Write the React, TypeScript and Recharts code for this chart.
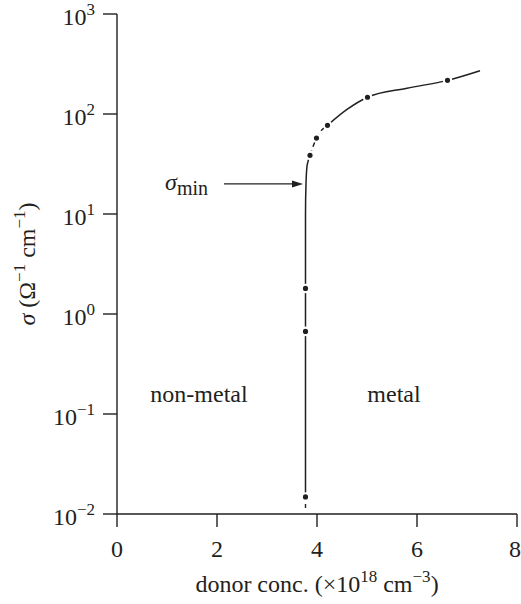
import React from 'react';
import { ComposedChart, Line, Scatter, XAxis, YAxis, ReferenceDot, ReferenceLine } from 'recharts';

// measured data points (donor conc. ×10^18 cm^-3, conductivity Ω^-1 cm^-1)
const pointX = [3.77, 3.77, 3.77, 3.86, 3.99, 4.21, 5.01, 6.61];
const pointY = [0.0148, 0.67, 1.8, 38.6, 57.5, 77, 147, 217];

// drawn guide curve: lower solid part (vertical rise)
const riseX = [3.77, 3.77, 3.77, 3.78, 3.8, 3.86];
const riseY = [0.0148, 1, 10, 20, 30, 38.6];
// dashed part between the close points
const dashX = [3.86, 3.99, 4.21];
const dashY = [38.6, 57.5, 77];
// upper solid part
const upperX = [4.21, 4.6, 5.01, 5.8, 6.61, 7.26];
const upperY = [77, 111, 147, 181, 217, 271];
// short dashed extrapolation below lowest point
const tailX = [3.77, 3.77];
const tailY = [0.0115, 0.0148];

const xTicks = [0, 2, 4, 6, 8];
const yTicks = [0.01, 0.1, 1, 10, 100, 1000];
const yExp = ['−2', '−1', '0', '1', '2', '3'];

const zip = (xs: number[], ys: number[]) => xs.map((x, i) => ({ x, y: ys[i] }));
const points = zip(pointX, pointY);
const rise = zip(riseX, riseY);
const dash = zip(dashX, dashY);
const upper = zip(upperX, upperY);
const tail = zip(tailX, tailY);

const INK = '#231f20';
const FONT = '"Liberation Serif", "DejaVu Serif", serif';
const FS = 24;
const SUP = 17;
const CHART_W = 521;

const YTick = (props: any) => {
  const { x, y, payload } = props;
  const i = yTicks.indexOf(payload.value);
  return (
    <text x={x - 6} y={y + 11} textAnchor="end" fill={INK} fontFamily={FONT} fontSize={FS}>
      <tspan>10</tspan>
      <tspan dy={-10} fontSize={SUP}>{yExp[i]}</tspan>
    </text>
  );
};

const XTick = (props: any) => {
  const { x, y, payload } = props;
  const nearEdge = x + 6 > CHART_W;
  return (
    <text
      x={nearEdge ? CHART_W : x}
      y={y + 28}
      textAnchor={nearEdge ? 'end' : 'middle'}
      fill={INK}
      fontFamily={FONT}
      fontSize={FS}
    >
      {payload.value}
    </text>
  );
};

const XLabel = (props: any) => {
  const { viewBox } = props;
  const cx = viewBox.x + viewBox.width / 2;
  return (
    <text x={cx} y={viewBox.y + 78} textAnchor="middle" fill={INK} fontFamily={FONT} fontSize={FS}>
      <tspan>donor conc. (×10</tspan>
      <tspan dy={-10} fontSize={SUP}>18</tspan>
      <tspan dy={10}> cm</tspan>
      <tspan dy={-10} fontSize={SUP}>−3</tspan>
      <tspan dy={10}>)</tspan>
    </text>
  );
};

const YLabel = (props: any) => {
  const { viewBox } = props;
  const cy = viewBox.y + viewBox.height / 2;
  const cx = 35;
  return (
    <text x={cx} y={cy} transform={`rotate(-90 ${cx} ${cy})`} textAnchor="middle" fill={INK} fontFamily={FONT} fontSize={FS}>
      <tspan fontStyle="italic">σ</tspan>
      <tspan> (Ω</tspan>
      <tspan dy={-10} fontSize={SUP}>−1</tspan>
      <tspan dy={10}> cm</tspan>
      <tspan dy={-10} fontSize={SUP}>−1</tspan>
      <tspan dy={10}>)</tspan>
    </text>
  );
};

const Arrow = (props: any) => {
  const { x1, y1, x2, y2 } = props;
  return (
    <g>
      <line x1={x1} y1={y1} x2={x2 - 8} y2={y2} stroke={INK} strokeWidth={1.4} />
      <polygon points={`${x2},${y2} ${x2 - 11},${y2 - 3.5} ${x2 - 11},${y2 + 3.5}`} fill={INK} />
    </g>
  );
};

const SigmaMinLabel = (props: any) => {
  const { viewBox } = props;
  return (
    <text x={viewBox.x - 16} y={viewBox.y + 6} textAnchor="end" fill={INK} fontFamily={FONT} fontSize={FS}>
      <tspan fontStyle="italic">σ</tspan>
      <tspan dy={5} fontSize={20}>min</tspan>
    </text>
  );
};

const regionLabel = (text: string) => (props: any) => {
  const { viewBox } = props;
  return (
    <text x={viewBox.x} y={viewBox.y + 8} textAnchor="middle" fill={INK} fontFamily={FONT} fontSize={FS}>
      {text}
    </text>
  );
};

const Dot = (props: any) => {
  const { cx, cy } = props;
  return <circle cx={cx} cy={cy} r={3.7} fill={INK} stroke="#fff" strokeWidth={2.2} />;
};

export default function App() {
  return (
    <div style={{ position: 'absolute', left: 0, top: 0, background: '#fff' }}>
      <ComposedChart width={CHART_W} height={604} margin={{ top: 14, right: 4, bottom: 0, left: 0 }}>
        <XAxis
          type="number"
          dataKey="x"
          domain={[0, 8]}
          ticks={xTicks}
          tickSize={13}
          tick={<XTick />}
          stroke={INK}
          strokeWidth={1.4}
          height={90}
          allowDataOverflow
          label={<XLabel />}
        />
        <YAxis
          type="number"
          dataKey="y"
          scale="log"
          domain={[0.01, 1000]}
          ticks={yTicks}
          tickSize={14}
          tick={<YTick />}
          stroke={INK}
          strokeWidth={1.4}
          width={117}
          allowDataOverflow
          label={<YLabel />}
        />
        <Line data={tail} dataKey="y" stroke={INK} strokeWidth={1.4} strokeDasharray="4 4" dot={false} isAnimationActive={false} type="linear" />
        <Line data={rise} dataKey="y" stroke={INK} strokeWidth={1.5} dot={false} isAnimationActive={false} type="monotoneY" />
        <Line data={dash} dataKey="y" stroke={INK} strokeWidth={1.5} strokeDasharray="5 4" dot={false} isAnimationActive={false} type="monotoneX" />
        <Line data={upper} dataKey="y" stroke={INK} strokeWidth={1.5} dot={false} isAnimationActive={false} type="monotoneX" />
        <Scatter data={points} dataKey="y" shape={<Dot />} isAnimationActive={false} />
        <ReferenceLine
          segment={[{ x: 2.14, y: 20 }, { x: 3.72, y: 20 }]}
          stroke={INK}
          shape={<Arrow />}
        />
        <ReferenceDot x={2.14} y={20} r={0} fill="none" stroke="none" label={<SigmaMinLabel />} />
        <ReferenceDot x={1.64} y={0.16} r={0} fill="none" stroke="none" label={regionLabel('non-metal')} />
        <ReferenceDot x={5.54} y={0.16} r={0} fill="none" stroke="none" label={regionLabel('metal')} />
      </ComposedChart>
    </div>
  );
}
